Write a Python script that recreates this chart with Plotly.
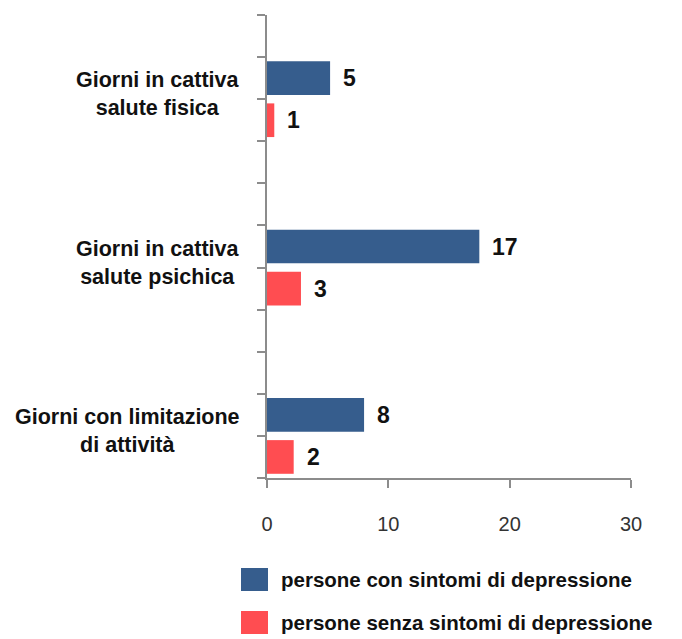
import plotly.graph_objects as go

categories = ["Giorni in cattiva<br>salute fisica",
              "Giorni in cattiva<br>salute psichica",
              "Giorni con limitazione<br>di attività"]
series_names = ["persone con sintomi di depressione",
                "persone senza sintomi di depressione"]
con_sintomi = [5.2, 17.5, 8.0]
senza_sintomi = [0.6, 2.8, 2.2]
con_labels = ["5", "17", "8"]
senza_labels = ["1", "3", "2"]
x_ticks = [0, 10, 20, 30]

BLUE = "#365D8D"
RED = "#FF4D51"
FONT = "Liberation Sans, Arial, sans-serif"

# each category uses 4 slots on the y axis: gap, blue, red, gap
cat_pos = [2 + 4 * i for i in range(len(categories))]
blue_pos = [p - 0.5 for p in cat_pos]
red_pos = [p + 0.5 for p in cat_pos]

fig = go.Figure()
fig.add_trace(go.Bar(y=blue_pos, x=con_sintomi, orientation="h", width=0.8,
                     marker=dict(color=BLUE, line=dict(width=0)),
                     name=series_names[0], showlegend=False))
fig.add_trace(go.Bar(y=red_pos, x=senza_sintomi, orientation="h", width=0.8,
                     marker=dict(color=RED, line=dict(width=0)),
                     name=series_names[1], showlegend=False))

annotations = []
for ys, xs, labels in [(blue_pos, con_sintomi, con_labels), (red_pos, senza_sintomi, senza_labels)]:
    for y, x, t in zip(ys, xs, labels):
        annotations.append(dict(x=x, y=y, xref="x", yref="y", text="<b>" + t + "</b>",
                                showarrow=False, xanchor="left", yanchor="middle", xshift=11,
                                font=dict(family=FONT, size=23, color="#111")))

for y, c in zip(cat_pos, categories):
    annotations.append(dict(x=0, y=y, xref="paper", yref="y", text="<b>" + c + "</b>",
                            showarrow=False, xanchor="right", yanchor="middle",
                            xshift=-25, yshift=5, align="center",
                            font=dict(family=FONT, size=21.5, color="#111")))

# legend drawn by hand to get the large colour boxes
shapes = []
for i, (name, col) in enumerate(zip(series_names, [BLUE, RED])):
    y1 = (478 - 568) / 463 - i * (43 / 463)
    shapes.append(dict(type="rect", xref="paper", yref="paper",
                       x0=-26 / 364, x1=1 / 364, y0=y1 - 23 / 463, y1=y1,
                       fillcolor=col, line=dict(width=0)))
    annotations.append(dict(x=12 / 364, y=y1 - 11 / 463, xref="paper", yref="paper",
                            text="<b>" + name + "</b>", showarrow=False,
                            xanchor="left", yanchor="middle",
                            font=dict(family=FONT, size=20.5, color="#111")))

fig.update_layout(
    width=682, height=639,
    margin=dict(l=259, r=59, t=7, b=169),
    plot_bgcolor="white", paper_bgcolor="white",
    barmode="overlay",
    annotations=annotations, shapes=shapes,
    xaxis=dict(range=[0, 30], tickvals=x_ticks, showgrid=False, zeroline=False,
               showline=True, linecolor="#8c8c8c", linewidth=1.5,
               ticks="outside", ticklen=8, tickcolor="#8c8c8c", tickwidth=1.5,
               ticklabelstandoff=19,
               tickfont=dict(family=FONT, size=20, color="#333")),
    yaxis=dict(range=[11, 0], tickvals=list(range(12)), ticktext=[""] * 12,
               showgrid=False, zeroline=False,
               showline=True, linecolor="#8c8c8c", linewidth=1.5,
               ticks="outside", ticklen=8, tickcolor="#8c8c8c", tickwidth=1.5),
)

fig.write_html("out.html")
